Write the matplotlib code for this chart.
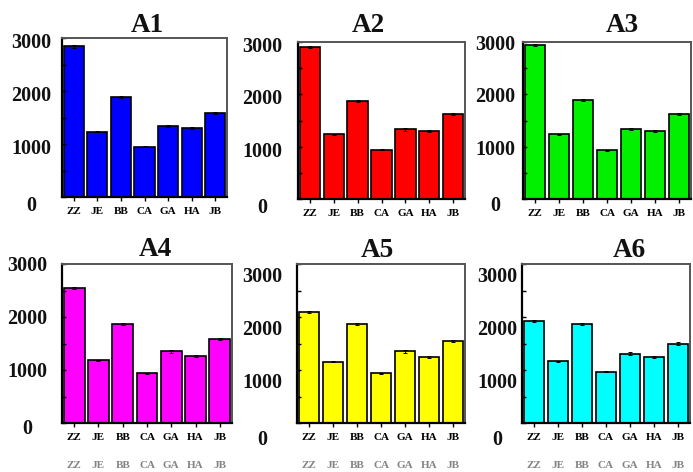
"""six bar panels A1..A6 with the same seven groups
"""

import matplotlib
matplotlib.use('Agg')
from matplotlib import pyplot
from matplotlib import transforms

categories = ['ZZ', 'JE', 'BB', 'CA', 'GA', 'HA', 'JB']

a1 = [2840, 1230, 1880, 950, 1340, 1310, 1590]
a2 = [2910, 1240, 1880, 940, 1330, 1300, 1620]
a3 = [2950, 1235, 1890, 935, 1335, 1297, 1620]
a4 = [2540, 1185, 1865, 935, 1355, 1260, 1580]
a5 = [2090, 1155, 1860, 935, 1355, 1250, 1545]
a6 = [1930, 1165, 1860, 965, 1310, 1250, 1500]
errors = [20, 10, 20, 10, 25, 20, 20]

titles = ['A1', 'A2', 'A3', 'A4', 'A5', 'A6']
colors = ['#0000ff', '#ff0000', '#00f000', '#ff00ff', '#ffff00', '#00ffff']
y_ticks = [0, 1000, 2000, 3000]

W, H = 693, 472
SERIF = 'Liberation Serif'

# (left, top, right, bottom) in pixels, title x in axes fraction, title pad,
# y label shift (dx, dy) in pixels
panels = [
    ((62, 38, 227, 197), 0.515, 3.5, (-31, 5)),
    ((298, 42, 465, 199), 0.42, 7, (-36, 5)),
    ((523, 42, 691, 199), 0.59, 7, (-28, 3)),
    ((62, 264, 232, 423), 0.547, 6, (-35, 2)),
    ((297, 264, 465, 423), 0.476, 5, (-35, 13)),
    ((522, 264, 690, 423), 0.64, 5, (-25, 13)),
]


def __draw_panel(fig, box, values, color, title, title_x, title_pad, shift, ghost):
    """один график со столбцами"""
    left, top, right, bottom = box
    ax = fig.add_axes([left / W, 1 - bottom / H, (right - left) / W, (bottom - top) / H])
    x = list(range(len(categories)))
    ax.bar(x, values, width=0.86, color=color, edgecolor='black', linewidth=1.2,
           yerr=errors, error_kw=dict(ecolor='black', elinewidth=0.7, capsize=1.5, capthick=0.7))
    ax.set_xlim(-0.5, len(categories) - 0.5)
    ax.set_ylim(0, 3000)

    ax.set_xticks(x, categories, fontsize=8, fontweight='bold', family=SERIF)
    ax.tick_params(axis='x', direction='out', length=3, width=1, pad=4.5)
    ax.set_yticks(y_ticks, [''] * len(y_ticks))
    ax.set_yticks([500, 1500, 2500], minor=True)
    ax.tick_params(axis='y', which='both', direction='in', length=3, width=1)

    for side in ('left', 'bottom'):
        ax.spines[side].set_linewidth(1.6)
        ax.spines[side].set_color('black')
    for side in ('top', 'right'):
        ax.spines[side].set_linewidth(1.4)
        ax.spines[side].set_color('#555555')

    dx, dy = shift
    for value in y_ticks:
        extra = 4 if value == 0 else 0
        trans = transforms.blended_transform_factory(ax.transAxes, ax.transData) + \
            transforms.ScaledTranslation(dx / 100, -(dy + extra) / 100, fig.dpi_scale_trans)
        ax.text(0, value, f'{value}', transform=trans, ha='center', va='center',
                fontsize=14.5, fontweight='bold', family=SERIF, color='#111111', clip_on=False)

    if ghost:
        trans = transforms.blended_transform_factory(ax.transData, ax.transAxes) + \
            transforms.ScaledTranslation(0, -43 / 100, fig.dpi_scale_trans)
        for i, name in enumerate(categories):
            ax.text(i, 0, name, transform=trans, ha='center', va='center', fontsize=8,
                    fontweight='bold', family=SERIF, color='#666666', alpha=0.8, clip_on=False)

    ax.set_title(title, x=title_x, pad=title_pad, fontsize=19.5, fontweight='bold',
                 family=SERIF, color='#111111')


def create_plot():
    fig = pyplot.figure(figsize=(W / 100, H / 100), dpi=100)
    data = (a1, a2, a3, a4, a5, a6)
    for index, (box, title_x, title_pad, shift) in enumerate(panels):
        __draw_panel(fig, box, data[index], colors[index], titles[index],
                     title_x, title_pad, shift, ghost=index >= 3)
    fig.savefig('out.png', dpi=100)


create_plot()
